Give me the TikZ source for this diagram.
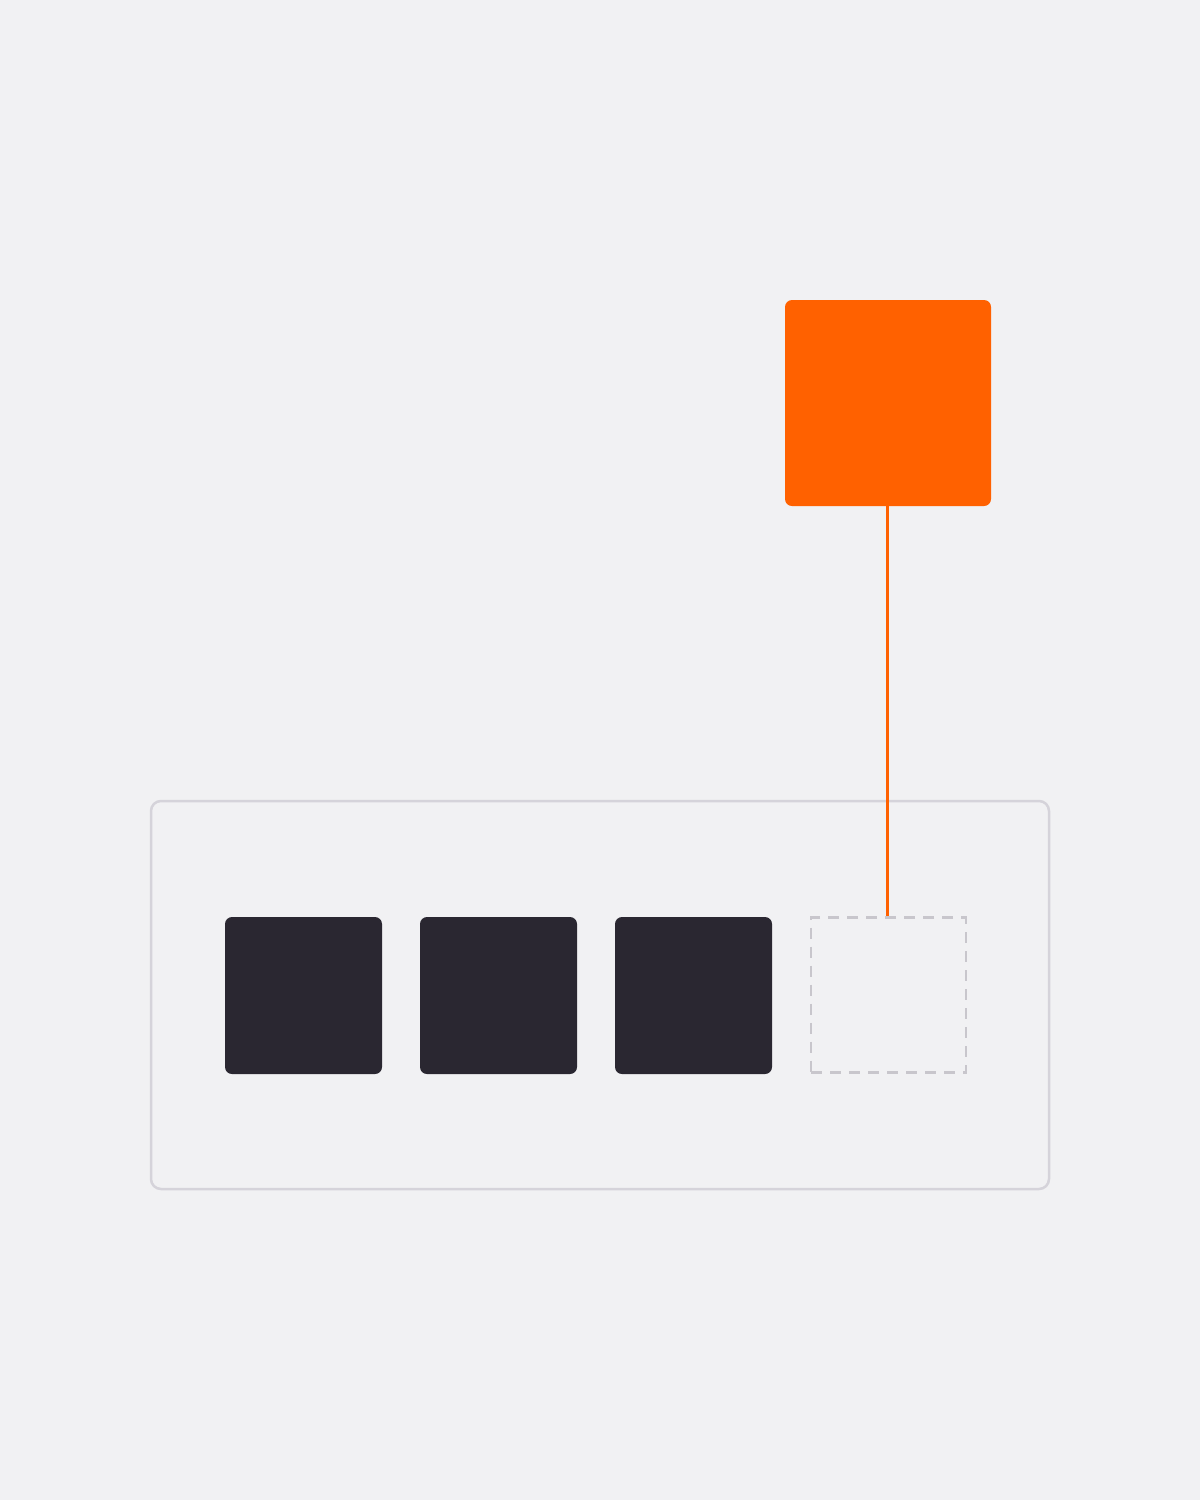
\documentclass[tikz,border=0pt]{standalone}
\usepackage{tikz}
\usetikzlibrary{positioning}
\definecolor{bg}{HTML}{F1F1F3}
\definecolor{slot}{HTML}{2A2731}
\definecolor{accent}{HTML}{FF6100}
\definecolor{rim}{HTML}{D5D3DA}
\definecolor{ghost}{HTML}{C8C6CC}

\begin{document}
\begin{tikzpicture}[x=1pt,y=-1pt,
  tray/.style={draw=rim,line width=2.5pt,rounded corners=10pt,minimum width=898pt,minimum height=388pt,inner sep=0pt},
  slotbox/.style={fill=slot,rounded corners=7pt,minimum size=157pt,inner sep=0pt},
  emptybox/.style={draw=ghost,line width=2.5pt,dash pattern=on 11pt off 8pt,minimum size=155pt,inner sep=0pt},
  pick/.style={fill=accent,rounded corners=7pt,minimum size=206pt,inner sep=0pt}]
\fill[bg] (0,0) rectangle (1200,1500);
\useasboundingbox (0,0) rectangle (1200,1500);
%
\node[tray] (tray) at (600,995) {};
\foreach \i/\x in {1/303.5,2/498.5,3/693.5}
  \node[slotbox] (slot\i) at (\x,995.5) {};
\node[emptybox] (slot4) at (888.5,995) {};
%
\node[pick] (pick) at (888,403) {};
\coordinate (drop) at ([xshift=-0.5pt]pick.south);
\draw[accent,line width=3pt] (drop) -- (drop |- slot4.north);
\end{tikzpicture}
\end{document}
